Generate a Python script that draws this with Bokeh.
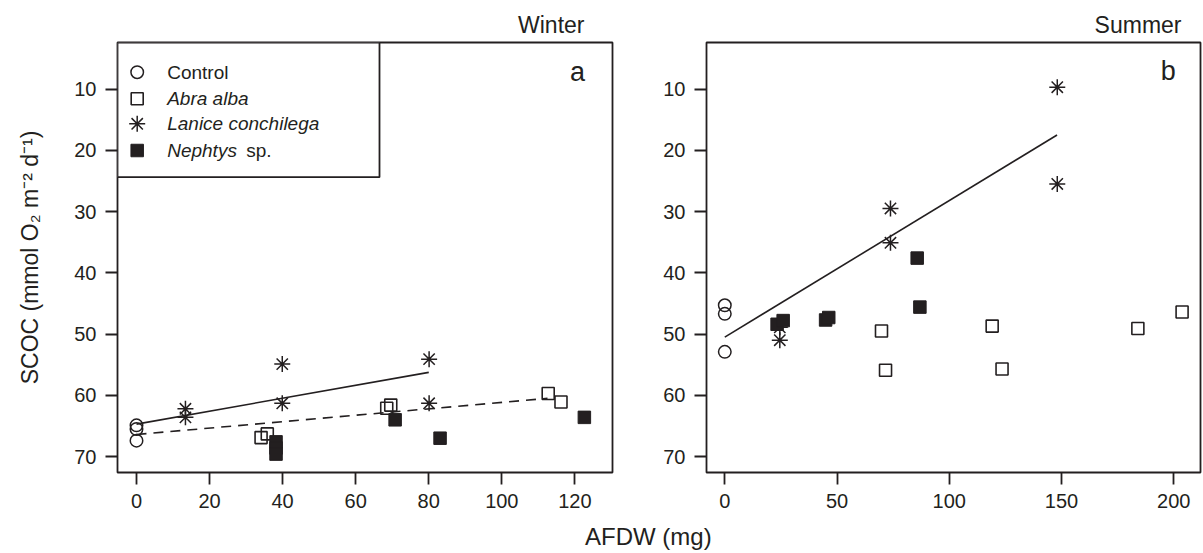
from bokeh.plotting import figure
from bokeh.models import Range1d, FixedTicker, Label, BoxAnnotation, Title, Div
from bokeh.layouts import row, column
from bokeh.embed import file_html
from bokeh.resources import INLINE

# ---------------- data ----------------
winter_control_x = [0, 0, 0]
winter_control_y = [64.9, 65.5, 67.4]
winter_abra_x = [34.1, 35.8, 68.5, 69.6, 112.7, 116.2]
winter_abra_y = [66.9, 66.3, 62.1, 61.6, 59.7, 61.1]
winter_lanice_x = [13.4, 13.4, 39.9, 39.9, 80.1, 80.1]
winter_lanice_y = [62.2, 63.6, 54.9, 61.3, 54.1, 61.3]
winter_nephtys_x = [38.2, 38.2, 38.2, 70.8, 83.1, 122.6]
winter_nephtys_y = [67.6, 68.6, 69.6, 64.0, 67.0, 63.6]
winter_fit_solid_x = [0, 80]
winter_fit_solid_y = [64.7, 56.25]
winter_fit_dashed_x = [0, 112.5]
winter_fit_dashed_y = [66.4, 60.5]

summer_control_x = [0, 0, 0]
summer_control_y = [45.3, 46.7, 52.9]
summer_abra_x = [69.8, 71.6, 119.1, 123.5, 184.0, 203.7]
summer_abra_y = [49.5, 55.9, 48.7, 55.7, 49.1, 46.4]
summer_lanice_x = [148.1, 148.1, 73.8, 73.8, 24.5, 24.5]
summer_lanice_y = [9.7, 25.5, 29.5, 35.1, 51.0, 48.9]
summer_nephtys_x = [23.3, 26.0, 44.9, 46.3, 85.7, 86.9]
summer_nephtys_y = [48.4, 47.8, 47.7, 47.3, 37.6, 45.6]
summer_fit_x = [0, 148]
summer_fit_y = [50.5, 17.5]

y_ticks = [10, 20, 30, 40, 50, 60, 70]
winter_x_ticks = [0, 20, 40, 60, 80, 100, 120]
summer_x_ticks = [0, 50, 100, 150, 200]

legend_labels = ["Control", "Abra alba", "Lanice conchilega", "Nephtys"]
legend_suffix = "sp."
y_label = "SCOC (mmol O\u2082 m\u207b\u00b2 d\u207b\u00b9)"
x_label = "AFDW (mg)"

# ---------------- style ----------------
INK = "#231f20"
FONT = "Liberation Sans"
FRAME_H = 430
Y0, Y1 = 72.6, 2.4


def make_fig(fw, xr, bl, br):
    p = figure(frame_width=fw, frame_height=FRAME_H,
               x_range=Range1d(*xr), y_range=Range1d(Y0, Y1),
               min_border_left=bl, min_border_right=br,
               min_border_top=42, min_border_bottom=51,
               output_backend="svg", toolbar_location=None,
               background_fill_color="white", border_fill_color="white")
    p.grid.visible = False
    p.outline_line_color = INK
    p.outline_line_width = 1.8
    p.outline_line_alpha = 1
    for ax in (p.xaxis[0], p.yaxis[0]):
        ax.axis_line_color = None
        ax.major_tick_line_color = INK
        ax.major_tick_line_width = 1.8
        ax.major_tick_out = 12
        ax.major_tick_in = 0
        ax.minor_tick_line_color = None
        ax.major_label_text_font = FONT
        ax.major_label_text_font_size = "20px"
        ax.major_label_text_color = INK
        ax.major_label_standoff = 9
    p.yaxis.ticker = FixedTicker(ticks=y_ticks, minor_ticks=[])
    return p


def add_points(p, cx, cy, ax_, ay, lx, ly, nx, ny):
    p.scatter(cx, cy, marker="circle", size=12.5, fill_color=None,
              line_color=INK, line_width=1.5)
    p.scatter(ax_, ay, marker="square", size=12, fill_color=None,
              line_color=INK, line_width=1.6)
    p.scatter(lx, ly, marker="asterisk", size=16, line_color=INK,
              line_width=1.5)
    p.scatter(nx, ny, marker="square", size=12.5, fill_color=INK,
              line_color=INK, line_width=1)


# ---------------- winter ----------------
W_X0, W_X1 = -5.2, 130.3
p1 = make_fig(495, (W_X0, W_X1), 117, 30)
p1.xaxis.ticker = FixedTicker(ticks=winter_x_ticks, minor_ticks=[])
p1.yaxis.axis_label = y_label
p1.yaxis.axis_label_text_font = FONT
p1.yaxis.axis_label_text_font_size = "23px"
p1.yaxis.axis_label_text_font_style = "normal"
p1.yaxis.axis_label_text_color = INK
p1.yaxis.axis_label_standoff = 28

p1.line(winter_fit_solid_x, winter_fit_solid_y, line_color=INK, line_width=1.6)
p1.line(winter_fit_dashed_x, winter_fit_dashed_y, line_color=INK,
        line_width=1.6, line_dash="10 7")
add_points(p1, winter_control_x, winter_control_y, winter_abra_x, winter_abra_y,
           winter_lanice_x, winter_lanice_y, winter_nephtys_x, winter_nephtys_y)

p1.add_layout(Title(text="Winter", align="right", offset=28,
                    text_font=FONT, text_font_size="23px",
                    text_font_style="normal", text_color=INK,
                    standoff=9), "above")

# pixel -> data helpers (layout only), reference-pixel based
W_FL, W_SX = 117.0, (W_X1 - W_X0) / 495
T_FT, T_SY = 42.0, (Y0 - Y1) / FRAME_H


def wx(px):
    return W_X0 + (px - W_FL) * W_SX


def wy(py):
    return Y1 + (py - T_FT) * T_SY


p1.add_layout(BoxAnnotation(left=W_X0, right=wx(379), top=Y1, bottom=wy(176.7),
                            fill_color="white", fill_alpha=1,
                            line_color=INK, line_width=1.8, line_alpha=1,
                            level="underlay"))
leg_rows = [71.7, 98.3, 123.3, 150.0]
p1.scatter([wx(136.7)], [wy(leg_rows[0])], marker="circle", size=12.5,
           fill_color=None, line_color=INK, line_width=1.5)
p1.scatter([wx(136.7)], [wy(leg_rows[1])], marker="square", size=12,
           fill_color=None, line_color=INK, line_width=1.6)
p1.scatter([wx(136.7)], [wy(leg_rows[2])], marker="asterisk", size=16,
           line_color=INK, line_width=1.5)
p1.scatter([wx(136.7)], [wy(leg_rows[3])], marker="square", size=12.5,
           fill_color=INK, line_color=INK)
styles = ["normal", "italic", "italic", "italic"]
for lab, st, ry in zip(legend_labels, styles, leg_rows):
    p1.add_layout(Label(x=wx(166.7), y=wy(ry), text=lab, text_font=FONT,
                        text_font_size="19px", text_font_style=st,
                        text_color=INK, text_baseline="middle",
                        text_align="left"))
p1.add_layout(Label(x=wx(245.7), y=wy(leg_rows[3]), text=legend_suffix,
                    text_font=FONT, text_font_size="19px",
                    text_font_style="normal", text_color=INK,
                    text_baseline="middle", text_align="left"))
p1.add_layout(Label(x=wx(577), y=wy(71.7), text="a", text_font=FONT,
                    text_font_size="27px", text_color=INK,
                    text_baseline="middle", text_align="center"))

# ---------------- summer ----------------
S_X0, S_X1 = -8.15, 211.9
p2 = make_fig(494, (S_X0, S_X1), 64, 3)
p2.xaxis.ticker = FixedTicker(ticks=summer_x_ticks, minor_ticks=[])
p2.line(summer_fit_x, summer_fit_y, line_color=INK, line_width=1.6)
add_points(p2, summer_control_x, summer_control_y, summer_abra_x, summer_abra_y,
           summer_lanice_x, summer_lanice_y, summer_nephtys_x, summer_nephtys_y)
p2.add_layout(Title(text="Summer", align="right", offset=19,
                    text_font=FONT, text_font_size="23px",
                    text_font_style="normal", text_color=INK,
                    standoff=9), "above")


def sx(px):
    return S_X0 + (px - 706.0) * (S_X1 - S_X0) / 494


p2.add_layout(Label(x=sx(1167.7), y=wy(70.5), text="b", text_font=FONT,
                    text_font_size="27px", text_color=INK,
                    text_baseline="middle", text_align="center"))

xlab = Div(text=x_label, width=200, height=26, margin=(1, 0, 0, 585),
           styles={"font-family": FONT, "font-size": "24px", "color": INK,
                   "white-space": "nowrap", "line-height": "26px"})

layout = column(row(p1, p2), xlab)
open("out.html", "w").write(file_html(layout, INLINE))
